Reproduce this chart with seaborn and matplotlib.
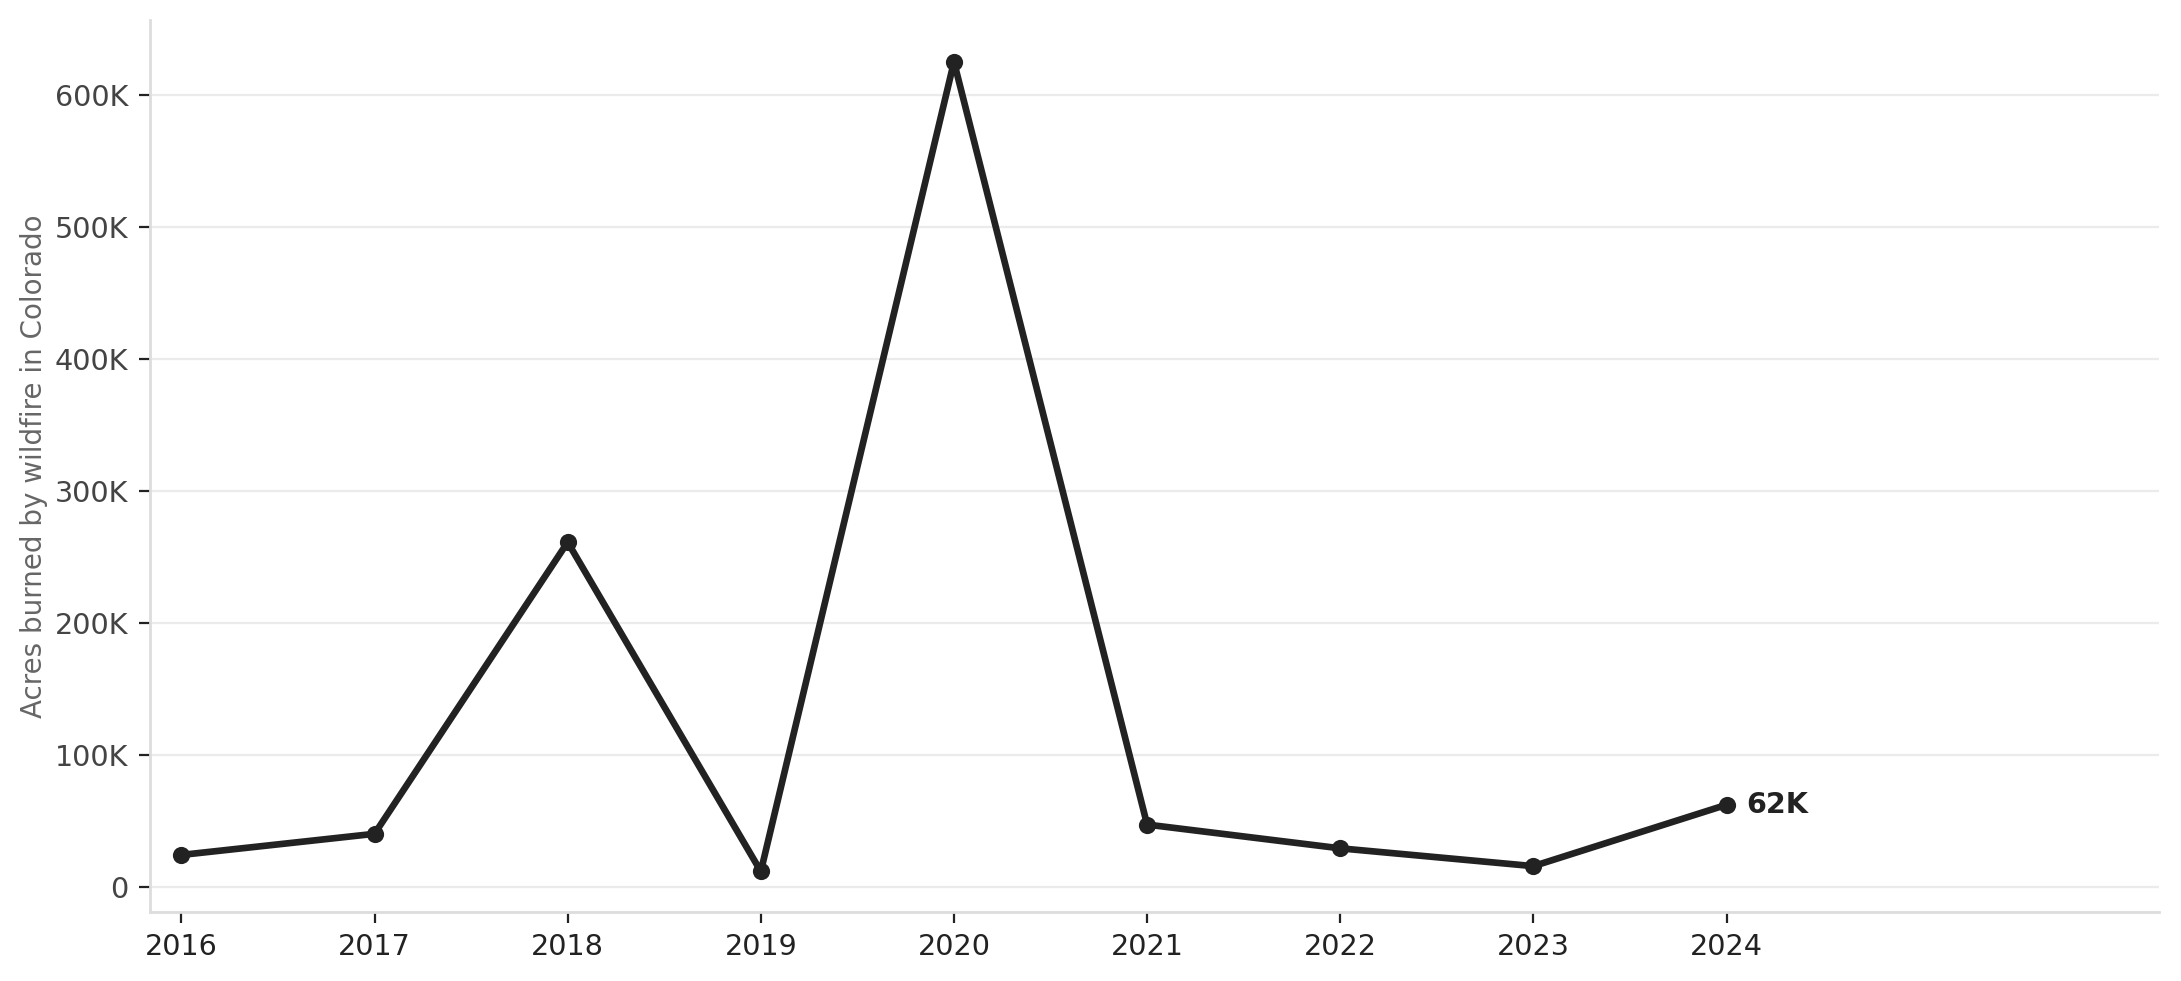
import matplotlib
matplotlib.use("Agg")
import matplotlib.pyplot as plt
import matplotlib.ticker as mticker
import seaborn as sns
import pandas as pd

years = [2016, 2017, 2018, 2019, 2020, 2021, 2022, 2023, 2024]
acres = [24000, 40000, 261000, 11500, 625000, 47000, 29000, 15500, 62000]
ytick_vals = [0, 100000, 200000, 300000, 400000, 500000, 600000]
ytick_labels = ["0", "100K", "200K", "300K", "400K", "500K", "600K"]
last_label = "62K"
y_title = "Acres burned by wildfire in Colorado"

sns.set_theme(style="white")
plt.rcParams['font.family'] = ['DejaVu Sans']

df = pd.DataFrame({"year": years, "acres": acres})

fig = plt.figure(figsize=(10.905, 4.905), dpi=200)
ax = fig.add_axes([0.069, 0.070, 0.921, 0.910])

sns.lineplot(data=df, x="year", y="acres", ax=ax, color="#222222",
             linewidth=2.4, marker="o", markersize=6.2,
             markeredgecolor="#222222", markeredgewidth=0)

ax.set_xlim(2015.84, 2026.24)
ax.set_ylim(-19500, 657000)
ax.set_xticks(years)
ax.set_xticklabels([str(y) for y in years])
ax.set_yticks(ytick_vals)
ax.set_yticklabels(ytick_labels)

ax.grid(axis="y", color="#ebebeb", linewidth=0.8)
ax.grid(axis="x", visible=False)
ax.set_axisbelow(True)

for s in ["top", "right"]:
    ax.spines[s].set_visible(False)
for s in ["left", "bottom"]:
    ax.spines[s].set_color("#dddddd")
    ax.spines[s].set_linewidth(1.0)

ax.tick_params(axis="x", which="major", length=4, width=0.8, color="#222222",
               labelsize=10.3, labelcolor="#222222", pad=3.5, bottom=True)
ax.tick_params(axis="y", which="major", length=4, width=0.8, color="#222222",
               labelsize=10.3, labelcolor="#444444", pad=4, left=True)

ax.set_xlabel("")
ax.set_ylabel(y_title, fontsize=10.0, color="#666666", labelpad=2.5)

ax.annotate(last_label, xy=(years[-1], acres[-1]), xytext=(7, 0),
            textcoords="offset points", va="center", ha="left",
            fontsize=10.3, fontweight="bold", color="#222222")

fig.savefig("out.png", dpi=200)
